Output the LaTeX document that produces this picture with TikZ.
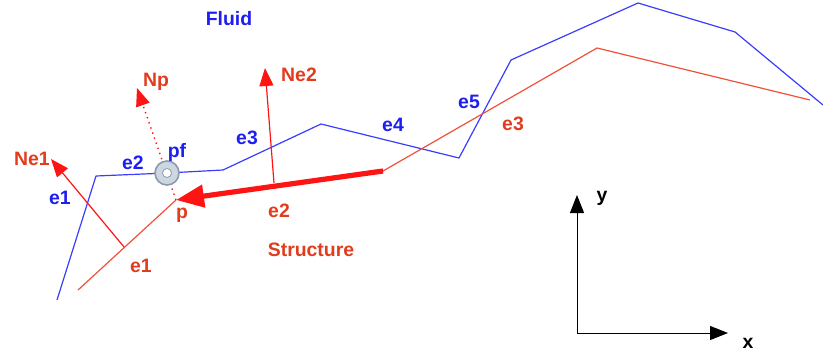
\documentclass[tikz,border=0pt]{standalone}
\usepackage{fontspec}
\setmainfont{Liberation Sans}
\usetikzlibrary{arrows.meta}
\definecolor{fblue}{RGB}{30,30,240}
\definecolor{fline}{RGB}{60,60,255}
\definecolor{sred}{RGB}{225,60,30}
\definecolor{sline}{RGB}{240,80,60}
\definecolor{nred}{RGB}{255,20,20}
\definecolor{mfill}{RGB}{205,215,225}
\definecolor{mdraw}{RGB}{140,155,170}
\begin{document}
\begin{tikzpicture}[x=0.5pt,y=-0.5pt,
  lbl/.style={font=\fontsize{9.7}{11}\selectfont\bfseries, inner sep=0pt},
  flbl/.style={lbl, text=fblue},
  slbl/.style={lbl, text=sred},
  fluidline/.style={fline, line width=0.6pt, line join=round},
  structline/.style={sline, line width=0.6pt, line join=round},
  normal/.style={nred, line width=0.6pt, -{Triangle[length=9pt,width=7pt]}},
  axis/.style={black, line width=0.5pt, -{Triangle[length=9pt,width=7pt]}}]
\useasboundingbox (0,0) rectangle (823,358);
% fluid polyline
\coordinate (f0) at (57,300);
\coordinate (f1) at (96,176);
\coordinate (pf) at (167,173);
\coordinate (f2) at (223,170);
\coordinate (f3) at (321,124);
\coordinate (f4) at (459,158);
\coordinate (f5) at (511,60);
\coordinate (f6) at (638,3);
\coordinate (f7) at (735,32);
\coordinate (f8) at (823,105);
\draw[fluidline] (f0) -- (f1) -- (pf) -- (f2) -- (f3) -- (f4) -- (f5) -- (f6) -- (f7) -- (f8);
% structure polyline
\coordinate (s0) at (78,290);
\coordinate (m1) at (124,247);
\coordinate (p) at (176,200);
\coordinate (m2) at (274,183);
\coordinate (s2) at (383,171);
\coordinate (s3) at (597,48);
\coordinate (s4) at (810,100);
\draw[structline] (s0) -- (p);
\draw[structline] (s2) -- (s3) -- (s4);
\draw[nred, line width=2.6pt, -{Triangle[length=14pt,width=11pt]}] (s2) -- (p);
% normals
\coordinate (ne1) at (51,159);
\coordinate (ne2) at (265,68);
\coordinate (np) at (137,88);
\draw[normal] (m1) -- (ne1);
\draw[normal] (m2) -- (ne2);
\draw[nred, line width=0.7pt, dotted, -{Triangle[length=9pt,width=7pt]}] (p) -- (np);
% pf marker
\node[circle, draw=mdraw, fill=mfill, line width=0.8pt, minimum size=12pt, inner sep=0pt] (pfm) at (pf) {};
\node[circle, draw=mdraw, fill=white, line width=0.4pt, minimum size=4.5pt, inner sep=0pt] (pfi) at (pf) {};
% axes
\coordinate (o) at (577,333);
\coordinate (ax) at (728,333);
\coordinate (ay) at (577,195);
\draw[axis] (o) -- (ax);
\draw[axis] (o) -- (ay);
% labels
\node[flbl] (tfluid) at (229,19) {Fluid};
\node[flbl] (te1) at (60,198) {e1};
\node[flbl] (te2) at (133,163) {e2};
\node[flbl] (tpf) at (177,152) {pf};
\node[flbl] (te3) at (247,138) {e3};
\node[flbl] (te4) at (393,125) {e4};
\node[flbl] (te5) at (469,102) {e5};
\node[slbl] (tnp) at (156,82) {Np};
\node[slbl] (tne2) at (299,75) {Ne2};
\node[slbl] (tne1) at (32,159) {Ne1};
\node[slbl] (tp) at (182,215) {p};
\node[slbl] (tse2) at (279,211) {e2};
\node[slbl] (tse1) at (141,266) {e1};
\node[slbl] (tse3) at (513,124) {e3};
\node[slbl] (tstruct) at (311,250) {Structure};
\node[lbl] (ty) at (602,198) {y};
\node[lbl] (tx) at (748,343) {x};
\end{tikzpicture}
\end{document}
